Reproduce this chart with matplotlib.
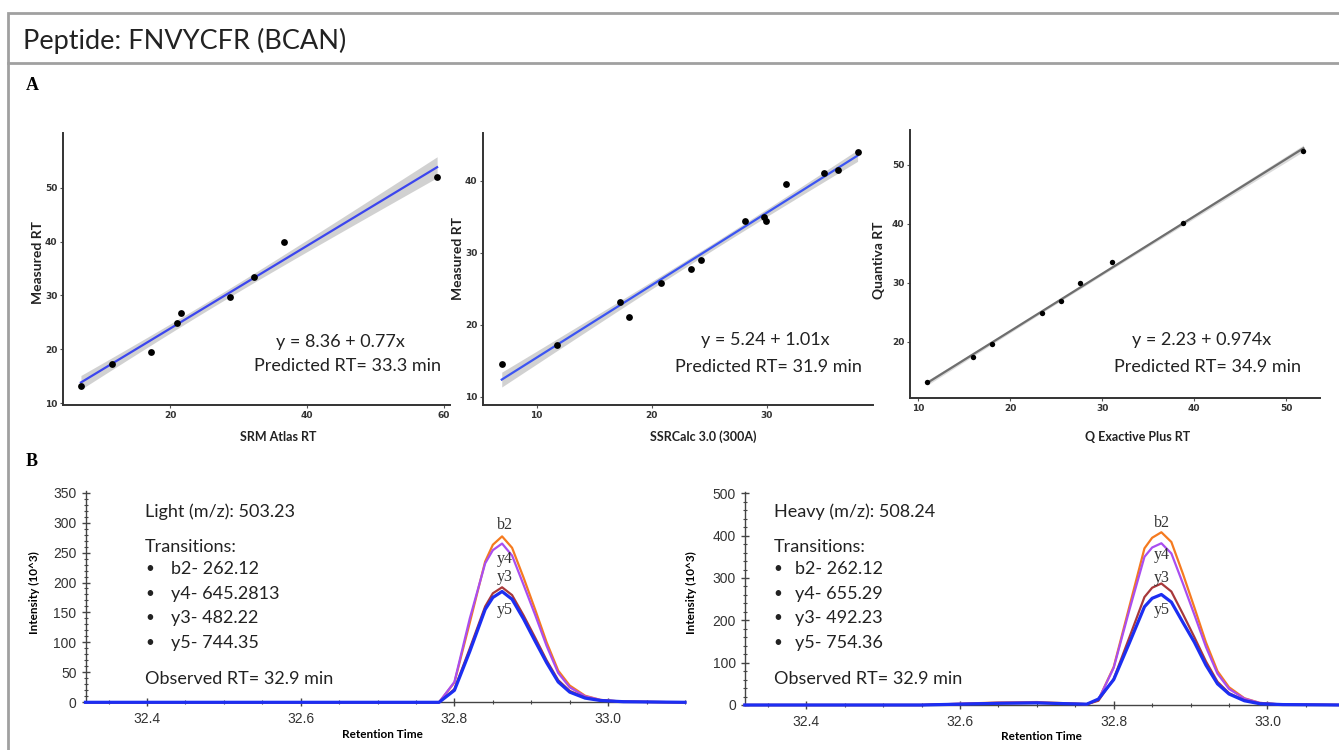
import numpy as np
import matplotlib
matplotlib.use("Agg")
import matplotlib.pyplot as plt
from matplotlib.ticker import MultipleLocator
from matplotlib.patches import Rectangle

W, H = 1339, 750

# ---- panel A data: retention time correlations ----
srm_x = [7.0, 11.6, 17.2, 21.0, 21.6, 28.7, 32.2, 36.6, 59.0]
srm_y = [13.1, 17.2, 19.5, 24.9, 26.8, 29.8, 33.5, 39.9, 52.0]
ssr_x = [6.96, 11.8, 17.2, 18.0, 20.8, 23.4, 24.3, 28.1, 29.75, 29.95, 31.7, 35.0, 36.2, 37.9]
ssr_y = [14.5, 17.2, 23.1, 21.0, 25.8, 27.7, 29.0, 34.4, 35.0, 34.4, 39.5, 41.1, 41.4, 44.0]
qe_x = [11.0, 16.0, 18.0, 23.5, 25.5, 27.6, 31.1, 38.8, 51.9]
qe_y = [13.2, 17.35, 19.6, 24.9, 26.9, 29.9, 33.5, 40.1, 52.4]

eq_texts = ["y = 8.36 + 0.77x", "y = 5.24 + 1.01x", "y = 2.23 + 0.974x"]
pred_texts = ["Predicted RT= 33.3 min", "Predicted RT= 31.9 min", "Predicted RT= 34.9 min"]
x_labels_a = ["SRM Atlas RT", "SSRCalc 3.0 (300A)", "Q Exactive Plus RT"]
y_labels_a = ["Measured RT", "Measured RT", "Quantiva RT"]

# ---- panel B data: chromatograms ----
rt = [32.32, 32.55, 32.60, 32.65, 32.70, 32.74, 32.765, 32.78, 32.80, 32.82, 32.84, 32.85,
      32.862, 32.875, 32.89, 32.905, 32.92, 32.935, 32.95, 32.97, 32.99, 33.02, 33.10]

light_b2 = [0, 0, 0, 0, 0, 0, 0, 0, 33, 133, 235, 263, 277, 258, 208, 155, 100, 53, 28, 11, 4, 1, 0]
light_y4 = [0, 0, 0, 0, 0, 0, 0, 0, 34, 140, 232, 254, 265, 245, 196, 146, 94, 49, 25, 10, 4, 1, 0]
light_y3 = [0, 0, 0, 0, 0, 0, 0, 0, 22, 90, 160, 182, 192, 179, 145, 108, 70, 37, 19, 8, 3, 1, 0]
light_y5 = [0, 0, 0, 0, 0, 0, 0, 0, 20, 85, 155, 175, 185, 172, 139, 102, 66, 34, 17, 7, 3, 1, 0]

heavy_b2 = [0, 0, 3, 6, 7, 4, 2, 12, 90, 230, 370, 395, 408, 385, 310, 230, 148, 80, 42, 16, 5, 1, 0]
heavy_y4 = [0, 0, 3, 5, 6, 3, 2, 12, 88, 222, 350, 372, 382, 358, 287, 213, 137, 74, 38, 15, 5, 1, 0]
heavy_y3 = [0, 0, 2, 4, 5, 3, 2, 10, 62, 158, 255, 277, 287, 268, 215, 160, 103, 55, 28, 11, 4, 1, 0]
heavy_y5 = [0, 0, 2, 4, 5, 3, 2, 14, 60, 145, 232, 252, 261, 243, 195, 148, 94, 50, 26, 10, 3, 1, 0]

light_info = ["Light (m/z): 503.23", ["b2- 262.12", "y4- 645.2813", "y3- 482.22", "y5- 744.35"]]
heavy_info = ["Heavy (m/z): 508.24", ["b2- 262.12", "y4- 655.29", "y3- 492.23", "y5- 754.36"]]
ion_names = ["b2", "y4", "y3", "y5"]
ion_colors = ["#f57a1f", "#a94ef0", "#a8383a", "#1c2ef2"]

SANS = "Lato"
BAND_T = 1.3  # band half-width in standard errors


def box(l, t, r, b):
    return [l / W, 1 - b / H, (r - l) / W, (b - t) / H]


def ftext(x, y, s, **kw):
    fig.text(x / W, 1 - y / H, s, **kw)


def scatter_panel(rect, xs, ys, xlim, ylim, xticks, yticks, line_color, band_alpha, dot_size):
    ax = fig.add_axes(rect)
    x = np.array(xs)
    y = np.array(ys)
    n = len(x)
    slope, icpt = np.polyfit(x, y, 1)
    grid = np.linspace(x.min(), x.max(), 100)
    resid = y - (icpt + slope * x)
    s = np.sqrt(np.sum(resid ** 2) / (n - 2))
    se = s * np.sqrt(1 / n + (grid - x.mean()) ** 2 / np.sum((x - x.mean()) ** 2))
    fit = icpt + slope * grid
    ax.fill_between(grid, fit - BAND_T * se, fit + BAND_T * se, color="#9a9a9a", alpha=band_alpha, lw=0)
    ax.plot(grid, fit, color=line_color, lw=1.6)
    ax.scatter(x, y, s=dot_size, color="black", zorder=3, lw=0)
    ax.set_xlim(*xlim)
    ax.set_ylim(*ylim)
    ax.set_xticks(xticks)
    ax.set_yticks(yticks)
    for sp in ["top", "right"]:
        ax.spines[sp].set_visible(False)
    for sp in ["left", "bottom"]:
        ax.spines[sp].set_color("#333333")
        ax.spines[sp].set_linewidth(1.4)
    ax.tick_params(length=2.5, width=0.8, color="#555555", labelsize=6.5, pad=1.5, labelcolor="#333333")
    for lab in ax.get_xticklabels() + ax.get_yticklabels():
        lab.set_fontweight("bold")
    ax.patch.set_alpha(0)
    return ax


def chrom_panel(rect, traces, ylim, ymajor, yminor):
    ax = fig.add_axes(rect)
    for vals, col in zip(traces, ion_colors):
        lw = 2.3 if col == ion_colors[-1] else 1.6
        ax.plot(rt, vals, color=col, lw=lw, clip_on=False, zorder=3)
    ax.set_xlim(32.32, 33.10)
    ax.set_ylim(*ylim)
    ax.xaxis.set_major_locator(MultipleLocator(0.2))
    ax.xaxis.set_minor_locator(MultipleLocator(0.05))
    ax.yaxis.set_major_locator(MultipleLocator(ymajor))
    ax.yaxis.set_minor_locator(MultipleLocator(yminor))
    ax.xaxis.set_major_formatter(matplotlib.ticker.FormatStrFormatter("%.1f"))
    for sp in ["top", "right"]:
        ax.spines[sp].set_visible(False)
    for sp in ["left", "bottom"]:
        ax.spines[sp].set_color("#444444")
        ax.spines[sp].set_linewidth(1.0)
    ax.tick_params(which="major", direction="inout", length=6, width=1, color="#444444",
                   labelsize=10, labelcolor="#333333")
    ax.tick_params(which="minor", direction="inout", length=3, width=0.8, color="#444444")
    ax.tick_params(axis="x", which="major", pad=4)
    for lab in ax.get_xticklabels() + ax.get_yticklabels():
        lab.set_fontfamily("Liberation Sans")
    ax.patch.set_alpha(0)
    return ax


fig = plt.figure(figsize=(W / 100, H / 100), dpi=100)

# frame and title band
fig.add_artist(Rectangle((8 / W, -0.01), (W + 10) / W, 1 - 12.7 / H + 0.01, transform=fig.transFigure,
                         fill=False, edgecolor="#a0a0a0", lw=2))
fig.add_artist(plt.Line2D([8 / W, 1.0], [1 - 63 / H, 1 - 63 / H], transform=fig.transFigure,
                          color="#a0a0a0", lw=2))
ftext(23, 49, "Peptide: FNVYCFR (BCAN)", fontsize=19.5, family=SANS, va="baseline", color="#222222")
ftext(32, 85, "A", fontsize=13, family="Liberation Serif", fontweight="bold", va="center", ha="center")
ftext(32, 462, "B", fontsize=13, family="Liberation Serif", fontweight="bold", va="center", ha="center")

# panel A
scatter_panel(box(63, 133, 450, 405), srm_x, srm_y, (4.38, 60.88), (9.63, 60.2),
              [20, 40, 60], [10, 20, 30, 40, 50], "#3c46ee", 0.45, 24)
scatter_panel(box(483, 133, 873, 405), ssr_x, ssr_y, (5.33, 39.24), (8.85, 46.6),
              [10, 20, 30], [10, 20, 30, 40], "#3c55f2", 0.45, 24)
scatter_panel(box(910, 130, 1320, 398.3), qe_x, qe_y, (9.10, 53.70), (10.39, 55.94),
              [10, 20, 30, 40, 50], [20, 30, 40, 50], "#6e6e6e", 0.35, 15)

eq_pos = [(340, 342, 347, 366), (765, 340, 768, 367), (1202, 340, 1207, 367)]
for (ex, ey, px, py), e, p in zip(eq_pos, eq_texts, pred_texts):
    ftext(ex, ey, e, fontsize=13, family=SANS, ha="center", va="center", color="#222222")
    ftext(px, py, p, fontsize=13, family=SANS, ha="center", va="center", color="#222222")

for x0, lab in zip([240, 650, 1085], x_labels_a):
    ftext(x0, 437, lab, fontsize=9, family=SANS, fontweight="bold", ha="left", va="center", color="#222222")
for x0, yc, lab in zip([38, 458, 879], [263, 258, 260], y_labels_a):
    ftext(x0, yc, lab, fontsize=10, family=SANS, fontweight="bold", rotation=90,
          ha="center", va="center", color="#222222")

# panel B
chrom_panel(box(85.5, 702.3 - 352 * 0.599, 685, 702.3),
            [light_b2, light_y4, light_y3, light_y5], (0, 352), 50, 10)
chrom_panel(box(744.8, 705 - 502 * 0.4234, 1344.3, 705),
            [heavy_b2, heavy_y4, heavy_y3, heavy_y5], (0, 502), 100, 20)

for info, x0, bx, tx in [(light_info, 145, 150, 171), (heavy_info, 774, 778, 795)]:
    ftext(x0, 512, info[0], fontsize=13, family=SANS, va="center", color="#222222")
    ftext(x0, 547, "Transitions:", fontsize=13, family=SANS, va="center", color="#222222")
    for yy, item in zip([569.3, 594, 618.3, 642.7], info[1]):
        ftext(bx, yy, "\u2022", fontsize=11, family=SANS, va="center", ha="center", color="#222222")
        ftext(tx, yy, item, fontsize=13, family=SANS, va="center", color="#222222")
    ftext(x0, 679.5, "Observed RT= 32.9 min", fontsize=13, family=SANS, va="center", color="#222222")

for lx, ys in [(505, [525, 559, 577, 610]), (1162, [522.7, 555, 578, 610])]:
    for name, yy in zip(ion_names, ys):
        ftext(lx, yy, name, fontsize=11.5, family="Liberation Serif", ha="center", va="center", color="#333333")

for cx, cy in [(382, 735), (1041, 736)]:
    ftext(cx, cy, "Retention Time", fontsize=8.5, family=SANS, fontweight="bold", ha="center", va="center")
for cx in [34, 691]:
    ftext(cx, 593, "Intensity (10^3)", fontsize=8.5, family=SANS, fontweight="bold", rotation=90,
          ha="center", va="center")

fig.savefig("out.png", dpi=100, facecolor="white")
